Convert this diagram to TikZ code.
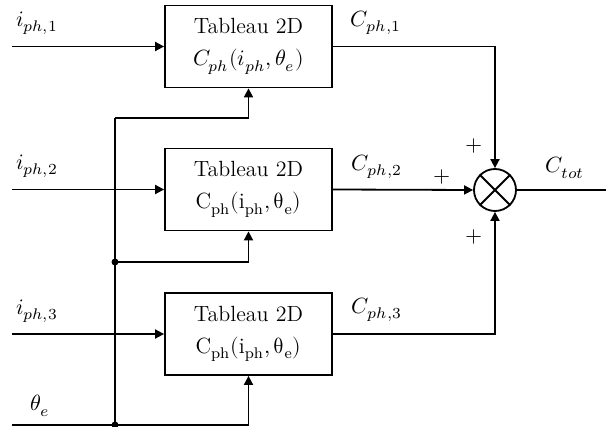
\documentclass[tikz,border=0pt]{standalone}
\usepackage{unicode-math}
\setmathfont{Latin Modern Math}
\usetikzlibrary{arrows.meta}
\begin{document}
\begin{tikzpicture}[x=0.5pt,y=-0.5pt,
  line width=0.9pt,
  tip/.style={-{Triangle[length=4.5pt,width=4.5pt]}},
  blk/.style={draw,minimum width=83.5pt,minimum height=41pt,align=center,inner sep=0pt,font=\fontsize{11}{13}\selectfont},
  lbl/.style={inner sep=0pt,font=\fontsize{11}{13}\selectfont},
  dot/.style={circle,fill,inner sep=0pt,minimum size=3.5pt}]
\useasboundingbox (0,0) rectangle (606,427);
% blocks
\node[blk] (b1) at (248.5,46.5) {Tableau 2D\\[3pt] $C_{ph}(i_{ph},\theta_e)$};
\node[blk] (b2) at (248.5,189.5) {Tableau 2D\\[3pt] $\mathrm{C}_{\mathrm{ph}}(\mathrm{i}_{\mathrm{ph}},\symup{\theta}_{\mathrm{e}})$};
\node[blk] (b3) at (248.5,334) {Tableau 2D\\[3pt] $\mathrm{C}_{\mathrm{ph}}(\mathrm{i}_{\mathrm{ph}},\symup{\theta}_{\mathrm{e}})$};
% summing junction
\node[draw,circle,minimum size=21pt,inner sep=0pt] (s) at (495,190) {};
\draw (s.north west) -- (s.south east) (s.north east) -- (s.south west);
% inputs
\coordinate (in1) at (12,46.5);
\coordinate (in2) at (12,189.5);
\coordinate (in3) at (12,334);
\coordinate (th) at (12,425);
\draw[tip] (in1) -- (b1.west);
\draw[tip] (in2) -- (b2.west);
\draw[tip] (in3) -- (b3.west);
% theta distribution
\coordinate (vtop) at (115,118);
\coordinate (jd) at (115,262);
\coordinate (jb) at (115,425);
\draw (th) -- (jb);
\draw[tip] (jb) -| (b3.south);
\draw (jb) -- (vtop);
\draw[tip] (vtop) -| (b1.south);
\draw[tip] (jd) -| (b2.south);
\node[dot] (d1) at (jd) {};
\node[dot] (d2) at (jb) {};
% outputs
\draw[tip] (b1.east) -| (s.north);
\draw[tip] (b2.east) -- (s.west);
\draw[tip] (b3.east) -| (s.south);
\coordinate (out) at (606,190);
\draw (s.east) -- (out);
% labels
\node[lbl] (l1) at (37,23) {$i_{ph,1}$};
\node[lbl] (l2) at (37,166) {$i_{ph,2}$};
\node[lbl] (l3) at (37,311) {$i_{ph,3}$};
\node[lbl] (lt) at (40,406) {$\theta_e$};
\node[lbl] (c1) at (376,23) {$C_{ph,1}$};
\node[lbl] (c2) at (377,167) {$C_{ph,2}$};
\node[lbl] (c3) at (377,310) {$C_{ph,3}$};
\node[lbl] (ct) at (565,168) {$C_{tot}$};
\node[lbl] (p1) at (474,146) {$+$};
\node[lbl] (p2) at (442,177) {$+$};
\node[lbl] (p3) at (474,237) {$+$};
\end{tikzpicture}
\end{document}
